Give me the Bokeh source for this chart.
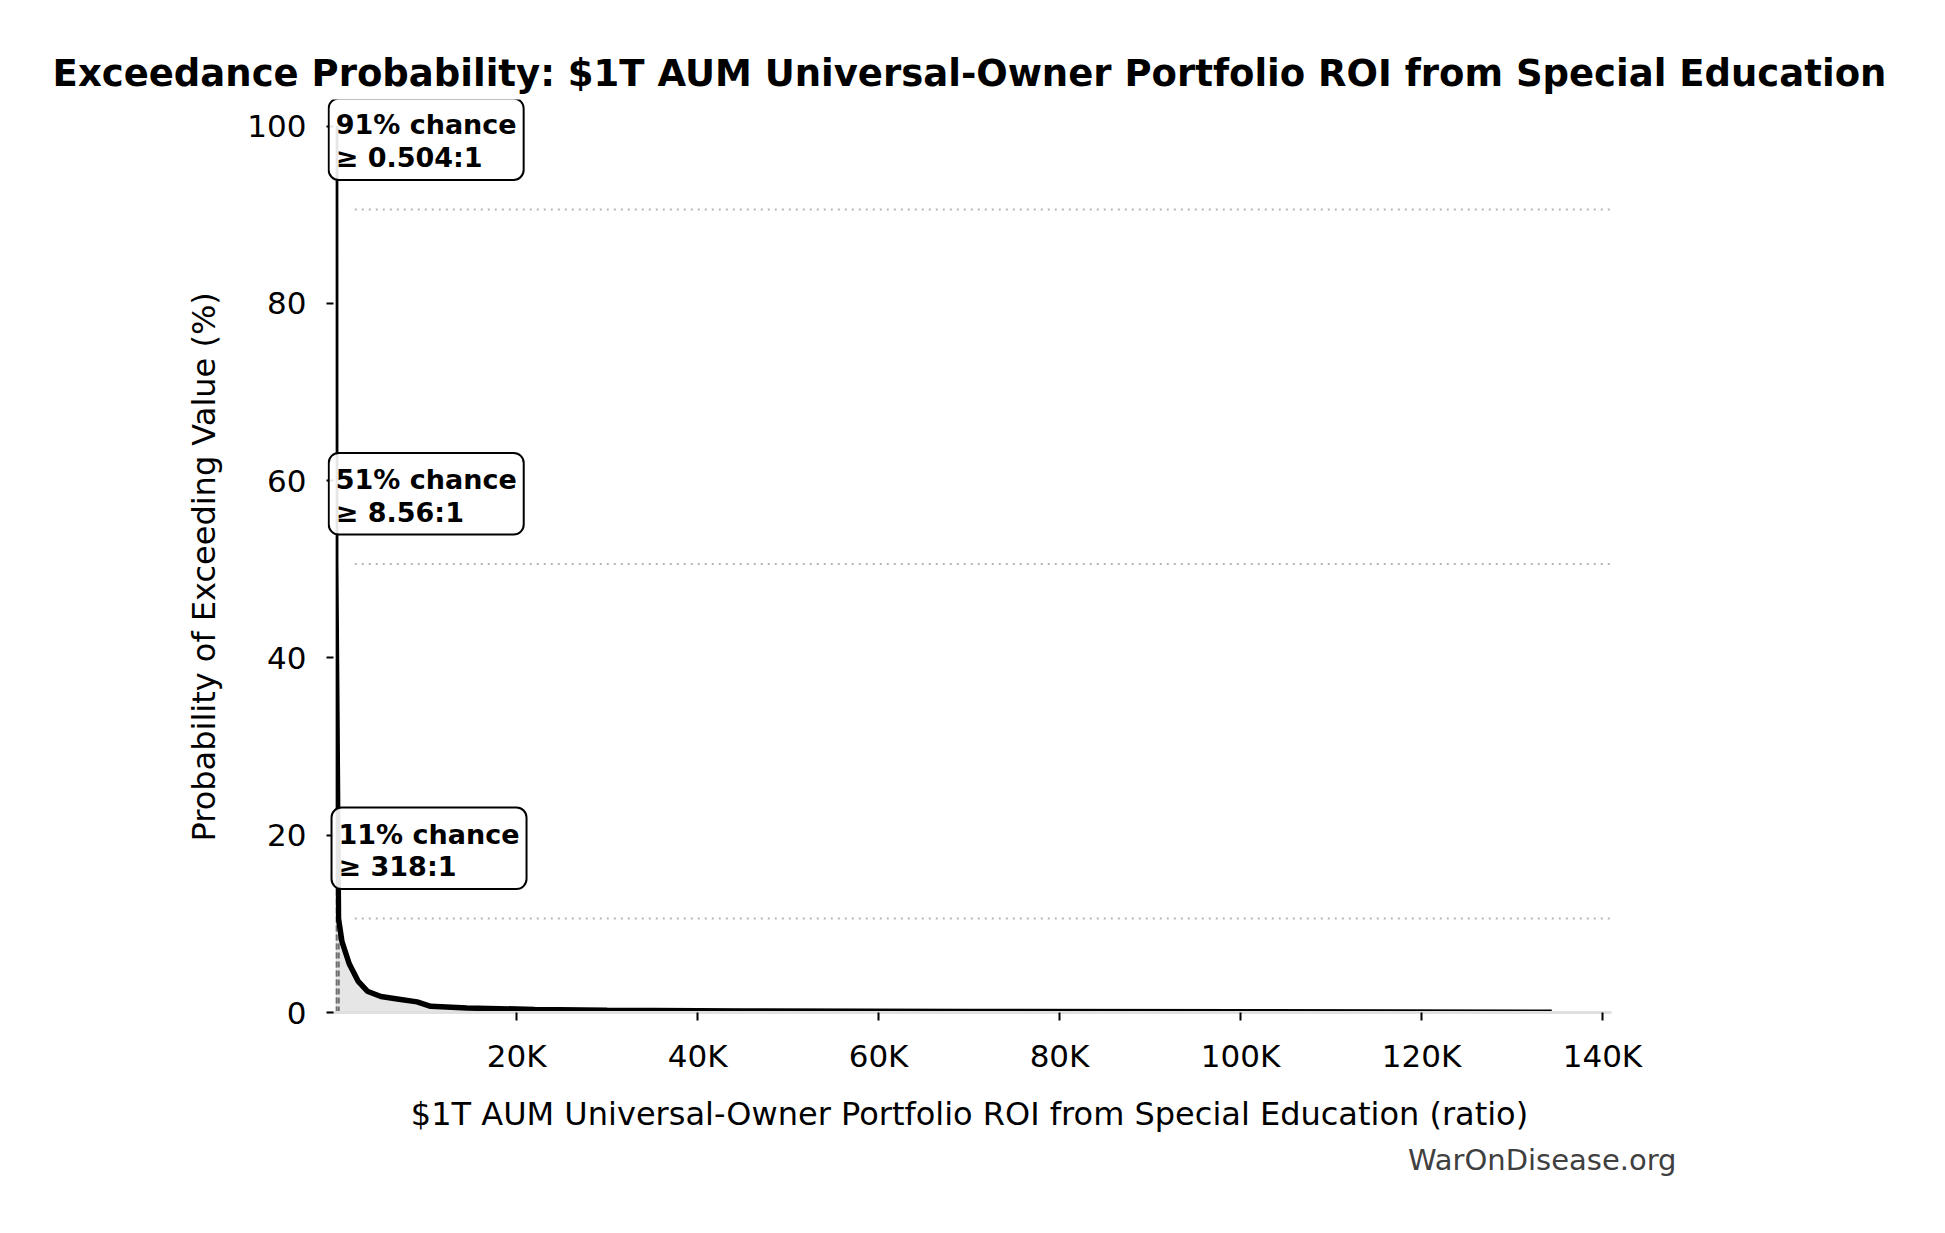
from bokeh.plotting import figure
from bokeh.models import Label, Range1d, FixedTicker, ColumnDataSource, Title
from bokeh.embed import file_html
from bokeh.resources import INLINE

# ---- data ----
roi = [0.05, 0.504, 8.56, 318, 700, 1500, 2500, 3500, 5000, 7000, 9000,
       10500, 14500, 22000, 30000, 45000, 70000, 100000, 134400]
prob = [100, 90.6, 50.6, 10.6, 8.0, 5.5, 3.5, 2.4, 1.8, 1.5, 1.2,
        0.7, 0.5, 0.35, 0.25, 0.18, 0.12, 0.08, 0.02]

marker_roi = [0.504, 8.56, 318]
marker_prob = [90.6, 50.6, 10.6]
marker_pct_label = ["91%", "51%", "11%"]
marker_roi_label = ["0.504", "8.56", "318"]

x_ticks = [20000, 40000, 60000, 80000, 100000, 120000, 140000]
x_tick_labels = ["20K", "40K", "60K", "80K", "100K", "120K", "140K"]
y_ticks = [0, 20, 40, 60, 80, 100]

X_MIN = -900
X_MAX = 141000
Y_MAX = 103

FONT = "DejaVu Sans"

p = figure(width=1945, height=1233, output_backend="svg", toolbar_location=None,
           x_range=Range1d(X_MIN, X_MAX), y_range=Range1d(0, Y_MAX),
           min_border_left=327, min_border_right=334, min_border_top=99,
           min_border_bottom=221,
           title="Exceedance Probability: $1T AUM Universal-Owner Portfolio ROI from Special Education")
p.outline_line_color = None
p.xgrid.visible = False
p.ygrid.visible = False
p.background_fill_color = "white"
p.border_fill_color = "white"

p.title.text_font = FONT
p.title.text_font_size = "37px"
p.title.text_font_style = "bold"
p.title.align = "center"
p.title.text_color = "black"

# fill under the curve
p.varea(x=roi, y1=[0] * len(roi), y2=prob, fill_color="#e6e6e6")

# horizontal dotted reference lines
src_h = ColumnDataSource(dict(x0=[X_MAX * 0.015] * 3, x1=[X_MAX] * 3,
                              y=marker_prob))
p.segment(x0="x0", y0="y", x1="x1", y1="y", source=src_h,
          line_color="#b5b5b5", line_width=2, line_dash="2 5")

# vertical dashed lines
src_v = ColumnDataSource(dict(x=marker_roi, y0=[0] * 3, y1=marker_prob))
p.segment(x0="x", y0="y0", x1="x", y1="y1", source=src_v,
          line_color="#707070", line_width=2.5, line_dash="6 3")

# curve
p.line(roi, prob, line_color="black", line_width=5.5)

# the original axes clip everything left of x = 0
p.quad(left=[X_MIN], right=[0], bottom=[0], top=[Y_MAX],
       fill_color="white", line_color=None)

# annotations
for xv, yv, pl, rl in zip(marker_roi, marker_prob, marker_pct_label, marker_roi_label):
    lab = Label(x=xv, y=yv, x_offset=-7, y_offset=111,
                text=f"{pl} chance\n\u2265 {rl}:1",
                text_font=FONT, text_font_size="27px", text_font_style="bold",
                text_color="black", text_align="left", text_baseline="top",
                text_line_height=1.05,
                background_fill_color="white", background_fill_alpha=0.9,
                border_line_color="black", border_line_width=2,
                padding=(7, 7, 11, 7), border_radius=10)
    p.add_layout(lab)

# watermark
wm = Title(text="WarOnDisease.org", align="right", offset=-65,
           text_font=FONT, text_font_size="29px", text_font_style="normal",
           text_color="#404040", standoff=10)
p.add_layout(wm, "below")

# axes
xa = p.xaxis[0]
xa.ticker = FixedTicker(ticks=x_ticks)
xa.major_label_overrides = {t: l for t, l in zip(x_ticks, x_tick_labels)}
xa.axis_label = "$1T AUM Universal-Owner Portfolio ROI from Special Education (ratio)"
xa.axis_line_color = "#e0e0e0"
xa.axis_line_width = 3
xa.minor_tick_line_color = None
xa.major_tick_in = 0
xa.major_tick_out = 8
xa.major_tick_line_width = 2
xa.major_label_standoff = 17
xa.axis_label_standoff = 18
xa.axis_label_text_font = FONT
xa.axis_label_text_font_size = "32px"
xa.axis_label_text_font_style = "normal"
xa.axis_label_text_color = "black"

ya = p.yaxis[0]
ya.ticker = FixedTicker(ticks=y_ticks)
ya.axis_line_color = None
ya.minor_tick_line_color = None
ya.major_tick_in = 6
ya.major_tick_out = 1
ya.major_tick_line_width = 2
ya.major_label_standoff = 20

for ax in (xa, ya):
    ax.major_label_text_font = FONT
    ax.major_label_text_font_size = "31px"
    ax.major_label_text_color = "black"
    ax.major_tick_line_color = "black"

ylab = Title(text="Probability of Exceeding Value (%)", align="left", offset=171,
             text_font=FONT, text_font_size="32px", text_font_style="normal",
             text_color="black", standoff=43)
p.add_layout(ylab, "left")

open("out.html", "w").write(file_html(p, INLINE))
